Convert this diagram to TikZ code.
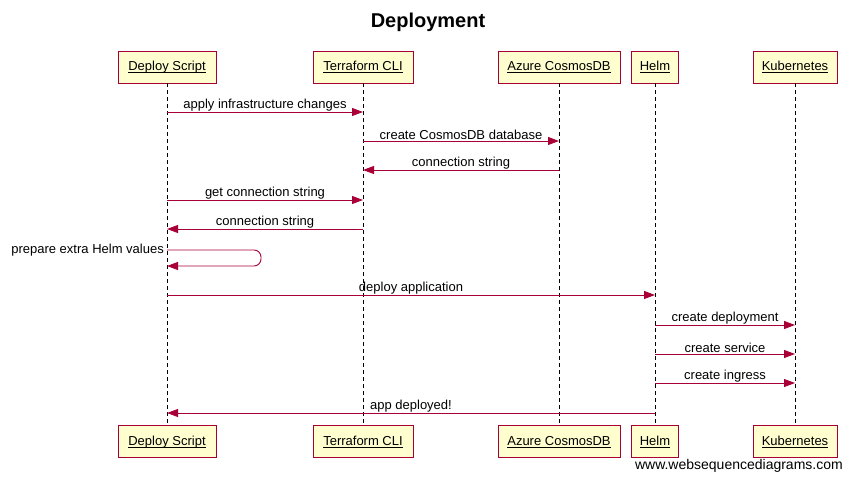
\documentclass[tikz,border=0pt]{standalone}
\usepackage{fontspec}
\setmainfont{Liberation Sans}
\usetikzlibrary{arrows.meta}
\definecolor{wsdred}{HTML}{A80036}
\definecolor{wsdfill}{HTML}{FEFECE}
\newcommand\ulname[1]{\underline{\smash{#1}}}
\tikzset{
  actor/.style={draw=wsdred, fill=wsdfill, line width=0.9pt, minimum height=32pt, inner sep=0pt, text height=10pt, text depth=2pt, font=\fontsize{13}{15}\selectfont},
  life/.style={draw=black, line width=0.9pt, dash pattern=on 4pt off 3pt},
  msg/.style={draw=wsdred, line width=0.9pt, -{Triangle[length=11pt,width=8pt]}},
  lbl/.style={font=\fontsize{13}{15}\selectfont, text=black, inner sep=0.5pt, above},
}
\begin{document}
\begin{tikzpicture}[x=1pt,y=-1pt]
\useasboundingbox (0,0) rectangle (852,481);
\node[font=\bfseries\fontsize{20}{24}\selectfont] (title) at (428,22) {Deployment};
% top actors
\node[actor, minimum width=98pt] (ds) at (167,67) {\ulname{Deploy Script}};
\node[actor, minimum width=100pt] (tf) at (363,67) {\ulname{Terraform CLI}};
\node[actor, minimum width=122pt] (az) at (559,67) {\ulname{Azure CosmosDB}};
\node[actor, minimum width=47pt] (hm) at (655,67) {\ulname{Helm}};
\node[actor, minimum width=84pt] (kb) at (795,67) {\ulname{Kubernetes}};
% bottom actors
\node[actor, minimum width=98pt] (dsb) at (167,441.5) {\ulname{Deploy Script}};
\node[actor, minimum width=100pt] (tfb) at (363,441.5) {\ulname{Terraform CLI}};
\node[actor, minimum width=122pt] (azb) at (559,441.5) {\ulname{Azure CosmosDB}};
\node[actor, minimum width=47pt] (hmb) at (655,441.5) {\ulname{Helm}};
\node[actor, minimum width=84pt] (kbb) at (795,441.5) {\ulname{Kubernetes}};
% lifelines
\draw[life] (ds.south) -- (dsb.north);
\draw[life] (tf.south) -- (tfb.north);
\draw[life] (az.south) -- (azb.north);
\draw[life] (hm.south) -- (hmb.north);
\draw[life] (kb.south) -- (kbb.north);
% message rows
\coordinate (r1) at (0,112);
\coordinate (r2) at (0,141);
\coordinate (r3) at (0,170);
\coordinate (r4) at (0,200);
\coordinate (r5) at (0,229);
\coordinate (r6a) at (0,250);
\coordinate (r6b) at (0,266);
\coordinate (r7) at (0,295);
\coordinate (r8) at (0,325);
\coordinate (r9) at (0,354);
\coordinate (r10) at (0,383);
\coordinate (r11) at (0,413);
\coordinate (selfx) at (261,0);
\draw[msg] (ds |- r1) -- node[lbl] {apply infrastructure changes} (tf |- r1);
\draw[msg] (tf |- r2) -- node[lbl] {create CosmosDB database} (az |- r2);
\draw[msg] (az |- r3) -- node[lbl] {connection string} (tf |- r3);
\draw[msg] (ds |- r4) -- node[lbl] {get connection string} (tf |- r4);
\draw[msg] (tf |- r5) -- node[lbl] {connection string} (ds |- r5);
\draw[msg, rounded corners=7pt] (ds |- r6a) -- (selfx |- r6a) -- (selfx |- r6b) -- (ds |- r6b);
\node[font=\fontsize{13}{15}\selectfont, anchor=east, inner sep=3pt] (selflbl) at (ds |- r6a) {prepare extra Helm values};
\draw[msg] (ds |- r7) -- node[lbl] {deploy application} (hm |- r7);
\draw[msg] (hm |- r8) -- node[lbl] {create deployment} (kb |- r8);
\draw[msg] (hm |- r9) -- node[lbl] {create service} (kb |- r9);
\draw[msg] (hm |- r10) -- node[lbl] {create ingress} (kb |- r10);
\draw[msg] (hm |- r11) -- node[lbl] {app deployed!} (ds |- r11);
\node[font=\fontsize{14}{16}\selectfont, anchor=east, inner sep=0pt] (wm) at (843,466) {www.websequencediagrams.com};
\end{tikzpicture}
\end{document}
